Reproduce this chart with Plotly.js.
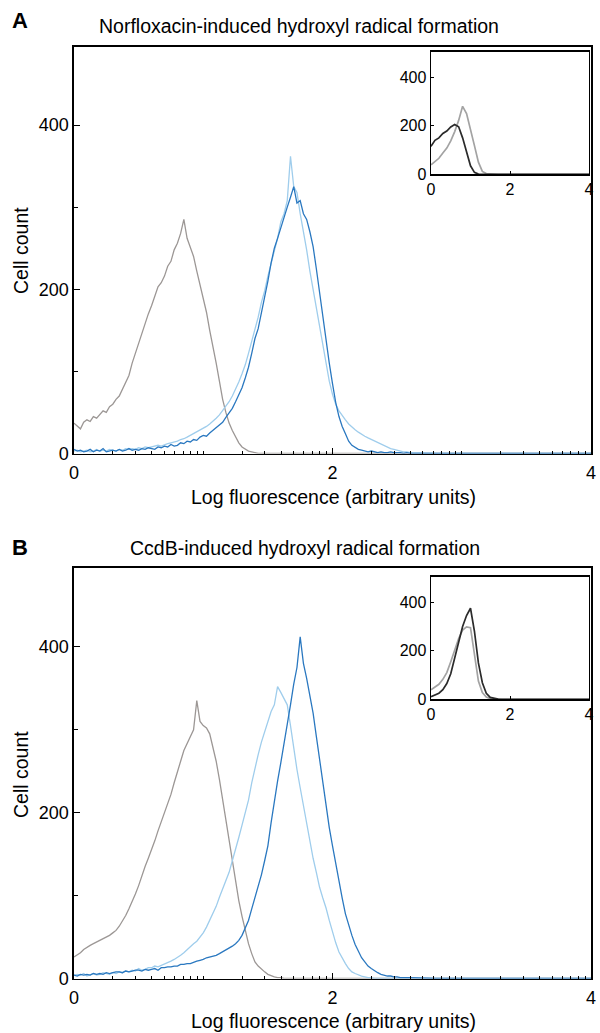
<!DOCTYPE html>
<html>
<head>
<meta charset="utf-8">
<script src="https://cdn.plot.ly/plotly-3.0.1.min.js"></script>
<style>html,body{margin:0;padding:0;background:#fff;}#chart{width:600px;height:1033px;}</style>
</head>
<body>
<div id="chart"></div>
<script>
// Bins (log fluorescence) for the main histograms
const logBins = [0,0.025,0.05,0.075,0.1,0.125,0.15,0.175,0.2,0.225,0.25,0.275,0.3,0.325,0.35,0.375,0.4,0.425,0.45,0.475,
  0.5,0.525,0.55,0.575,0.6,0.625,0.65,0.675,0.7,0.725,0.75,0.775,0.8,0.825,0.85,0.875,0.9,0.925,0.95,0.975,
  1.0,1.025,1.05,1.075,1.1,1.125,1.15,1.175,1.2,1.225,1.25,1.275,1.3,1.325,1.35,1.375,1.4,1.425,1.45,1.475,
  1.5,1.525,1.55,1.575,1.6,1.625,1.65,1.675,1.7,1.725,1.75,1.775,1.8,1.825,1.85,1.875,1.9,1.925,1.95,1.975,
  2.0,2.025,2.05,2.075,2.1,2.125,2.15,2.175,2.2,2.225,2.25,2.275,2.3,2.325,2.35,2.375,2.4,2.425,2.45,2.475,
  2.5,2.525,2.55,2.575,2.6,2.8,3.0,3.5,4.0];

// Panel A: Norfloxacin (grey = control, light / dark blue = treated)
const normA_gray  = [37,33,30,38,41,39,45,43,48,52,50,57,60,66,70,78,86,95,110,122,
  136,148,158,170,180,192,203,208,216,228,234,248,256,268,285,262,250,240,222,205,
  192,172,150,132,110,88,66,50,37,28,20,13,8,5,3,2,1,0,0,0,
  0,0,0,0,0,0,0,0,0,0,0,0,0,0,0,0,0,0,0,0,
  0,0,0,0,0,0,0,0,0,0,0,0,0,0,0,0,0,0,0,0,
  0,0,0,0,0,0,0,0,0];
const normA_dark  = [5,3,4,2,3,5,2,4,3,6,2,3,4,3,5,3,4,6,4,5,
  4,6,5,7,6,5,8,7,9,8,11,9,10,13,12,15,14,17,16,20,
  22,21,25,28,31,34,38,44,50,55,63,71,80,92,105,122,140,152,170,192,
  210,232,250,262,275,290,300,312,325,305,308,292,285,270,252,225,195,168,140,110,
  85,62,45,33,24,15,10,7,5,4,3,2,3,2,1,2,1,1,2,1,
  1,1,0,1,0,0,0,0,0];
const normA_light = [3,4,2,3,4,2,3,5,3,4,3,5,4,3,5,4,6,5,6,5,
  7,6,8,7,8,9,10,9,11,12,13,14,15,17,18,20,22,24,26,28,
  30,33,36,39,43,47,52,57,63,70,78,87,97,108,122,136,152,166,184,198,
  216,232,248,262,282,292,308,362,325,318,292,272,248,222,200,178,158,132,110,88,
  72,60,52,46,41,36,32,29,26,23,21,19,17,15,13,11,9,8,6,5,
  4,3,2,2,1,0,0,0,0];

// Panel B: CcdB
const ccdB_gray  = [26,28,31,35,38,40,42,44,45,47,49,52,55,58,63,69,76,84,92,102,
  112,124,135,145,155,166,178,189,200,211,222,236,248,262,275,284,292,300,335,310,
  305,302,295,280,262,240,215,192,170,142,115,94,75,57,42,30,20,15,11,8,
  5,3,2,1,1,0,0,0,0,0,0,0,0,0,0,0,0,0,0,0,
  0,0,0,0,0,0,0,0,0,0,0,0,0,0,0,0,0,0,0,0,
  0,0,0,0,0,0,0,0,0];
const ccdB_light = [4,5,4,6,3,5,6,4,5,7,6,5,7,6,8,7,9,8,10,9,
  12,10,11,13,13,15,14,16,17,19,21,23,25,28,31,35,38,42,45,50,
  55,62,70,78,87,98,108,118,128,142,155,170,185,200,215,236,255,270,285,298,
  310,322,330,352,345,338,330,305,275,252,230,208,185,165,145,128,110,97,85,70,
  55,43,32,24,18,12,8,6,4,3,2,1,1,0,0,0,0,0,0,0,
  0,0,0,0,0,0,0,0,0];
const ccdB_dark  = [4,3,5,4,5,4,6,5,6,5,7,6,7,8,8,7,9,8,9,10,
  10,9,11,10,11,12,10,13,13,14,14,15,15,17,17,18,18,20,21,22,
  23,25,26,27,28,30,32,34,36,39,42,46,52,60,70,84,98,110,125,142,
  160,188,215,238,260,282,305,330,355,375,412,380,362,340,320,292,265,235,205,182,
  160,138,118,97,78,64,52,41,32,25,20,15,12,9,7,5,4,3,3,2,
  2,1,1,1,1,0,0,0,0];

// Insets: bins and series
const insetBins = [0,0.1,0.2,0.3,0.4,0.5,0.6,0.7,0.8,0.9,1.0,1.1,1.2,1.3,1.4,1.5,1.6,1.7,1.8,1.9,2.0,3.0,4.0];
const insetA_gray  = [39,52,66,88,108,138,176,222,280,250,188,118,50,12,3,1,0,0,0,0,0,0,0];
const insetA_black = [115,140,150,168,178,195,205,196,150,90,35,8,1,0,0,0,0,0,0,0,0,0,0];
const insetB_gray  = [39,50,62,82,110,155,205,250,285,298,295,190,75,28,9,3,1,0,0,0,0,0,0];
const insetB_black = [11,18,25,40,65,105,170,240,300,345,375,280,150,68,25,8,3,1,0,0,0,0,0];

const xTickVals = [0,2,4];
const xTickText = ['0','2','4'];
const yTickVals = [0,200,400];
const yTickText = ['0','200','400'];
const minorXVals = [];
[0,1,2,3].forEach(d => { [2,3,4,5,6,7,8,9,10].forEach(k => minorXVals.push(d + Math.log10(k))); });

const C_GRAY = '#9c9795', C_LIGHT = '#9fcdec', C_DARK = '#2a78c0';
const I_GRAY = '#a3a3a3', I_BLACK = '#2b2b2b';

function line(x, y, color, xa, ya, w) {
  return {x: x, y: y, type: 'scatter', mode: 'lines', line: {color: color, width: w || 1.3},
          xaxis: xa, yaxis: ya, showlegend: false, hoverinfo: 'skip'};
}

const traces = [
  line(logBins, normA_gray, C_GRAY, 'x', 'y'),
  line(logBins, normA_light, C_LIGHT, 'x', 'y'),
  line(logBins, normA_dark, C_DARK, 'x', 'y'),
  line(logBins, ccdB_gray, C_GRAY, 'x2', 'y2'),
  line(logBins, ccdB_light, C_LIGHT, 'x2', 'y2'),
  line(logBins, ccdB_dark, C_DARK, 'x2', 'y2'),
  line(insetBins, insetA_gray, I_GRAY, 'x3', 'y3', 1.7),
  line(insetBins, insetA_black, I_BLACK, 'x3', 'y3', 1.7),
  line(insetBins, insetB_gray, I_GRAY, 'x4', 'y4', 1.7),
  line(insetBins, insetB_black, I_BLACK, 'x4', 'y4', 1.7)
];

const FONT = 'Liberation Sans, Arial, sans-serif';
function mainX(domain, anchor) {
  return {domain: domain, anchor: anchor, range: [0, 4], showgrid: false, zeroline: false,
    showline: true, mirror: true, linecolor: '#000', linewidth: 1.6,
    tickmode: 'array', tickvals: xTickVals, ticktext: xTickText, ticks: 'inside', ticklen: 6,
    tickcolor: '#000', tickfont: {family: FONT, size: 18, color: '#000'}, ticklabelstandoff: 2,
    minor: {tickmode: 'array', tickvals: minorXVals, ticks: 'inside', ticklen: 3, tickcolor: '#000', showgrid: false}};
}
function mainY(domain, anchor) {
  return {domain: domain, anchor: anchor, range: [0, 495], showgrid: false, zeroline: false,
    showline: true, mirror: true, linecolor: '#000', linewidth: 1.6,
    tickmode: 'array', tickvals: yTickVals, ticktext: yTickText, ticks: 'inside', ticklen: 6,
    tickcolor: '#000', tickfont: {family: FONT, size: 18, color: '#000'},
    minor: {tickmode: 'array', tickvals: [100, 300], ticks: 'inside', ticklen: 4, tickcolor: '#000', showgrid: false}};
}
function insetX(domain, anchor) {
  return {domain: domain, anchor: anchor, range: [0, 4], showgrid: false, zeroline: false,
    showline: true, mirror: true, linecolor: '#000', linewidth: 1.4,
    tickmode: 'array', tickvals: xTickVals, ticktext: xTickText, ticks: 'inside', ticklen: 3,
    tickcolor: '#000', tickfont: {family: FONT, size: 16, color: '#000'}};
}
function insetY(domain, anchor) {
  return {domain: domain, anchor: anchor, range: [0, 505], showgrid: false, zeroline: false,
    showline: true, mirror: true, linecolor: '#000', linewidth: 1.4,
    tickmode: 'array', tickvals: yTickVals, ticktext: yTickText, ticks: 'inside', ticklen: 3,
    tickcolor: '#000', tickfont: {family: FONT, size: 16, color: '#000'}};
}

const W = 600, H = 1033;
function px(v) { return v / W; }
function py(v) { return 1 - v / H; }
function note(text, x, y, size, angle) {
  return {text: text, x: px(x), y: py(y), xref: 'paper', yref: 'paper', showarrow: false,
          xanchor: 'center', yanchor: 'middle', textangle: angle || 0, font: {size: size, color: '#000'}};
}

const layout = {
  width: W, height: H, margin: {l: 0, r: 0, t: 0, b: 0},
  paper_bgcolor: '#fff', plot_bgcolor: 'rgba(0,0,0,0)', showlegend: false,
  font: {family: FONT, color: '#000'},
  xaxis: mainX([px(74), px(591)], 'y'),
  yaxis: mainY([py(453.5), py(47)], 'x'),
  xaxis2: mainX([px(74), px(591)], 'y2'),
  yaxis2: mainY([py(978.5), py(568)], 'x2'),
  xaxis3: insetX([px(431), px(589)], 'y3'),
  yaxis3: insetY([py(174.3), py(51.7)], 'x3'),
  xaxis4: insetX([px(431), px(589)], 'y4'),
  yaxis4: insetY([py(699.3), py(576.7)], 'x4'),
  annotations: [
    note('<b>A</b>', 20, 20, 22),
    note('Norfloxacin-induced hydroxyl radical formation', 299, 26, 19.5),
    note('Log fluorescence (arbitrary units)', 333, 497, 19.5),
    note('Cell count', 21, 251, 19.5, -90),
    note('<b>B</b>', 20, 547, 22),
    note('CcdB-induced hydroxyl radical formation', 305, 548, 19.5),
    note('Log fluorescence (arbitrary units)', 333, 1021, 19.5),
    note('Cell count', 21, 775, 19.5, -90)
  ]
};

Plotly.newPlot('chart', traces, layout, {staticPlot: true, displayModeBar: false});
</script>
</body>
</html>
